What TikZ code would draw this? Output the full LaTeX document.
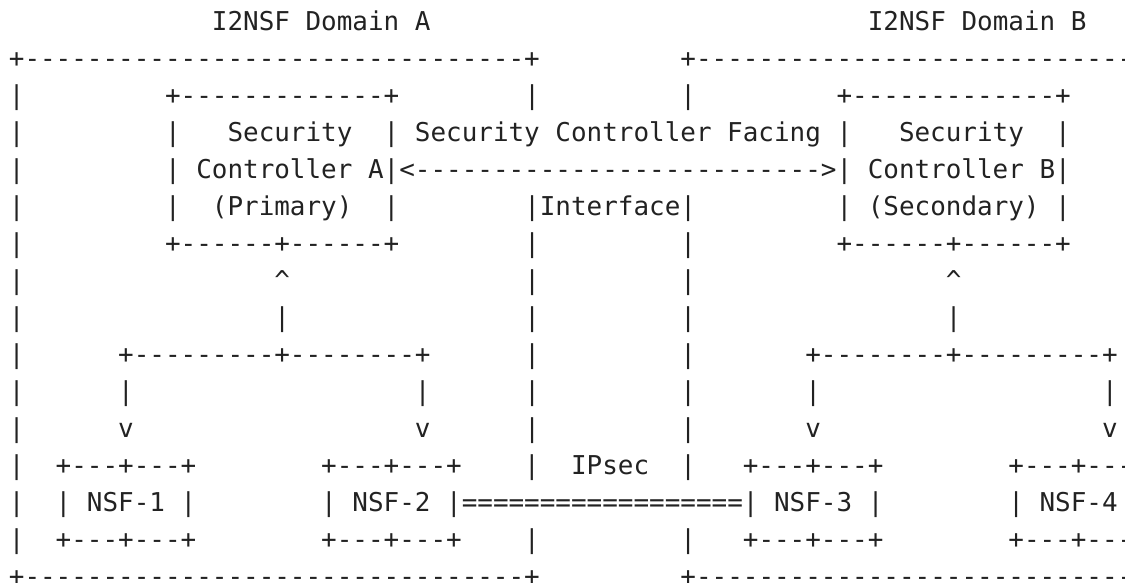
\documentclass[tikz,border=0pt]{standalone}
\usepackage{fontspec}
\setmonofont{DejaVu Sans Mono}
\usetikzlibrary{positioning}

\definecolor{asciiink}{HTML}{222222}

% repeat a character n times
\newcommand{\rpt}[2]{\ifnum#1>0 #2\expandafter\rpt\expandafter{\the\numexpr#1-1\relax}{#2}\fi}

\tikzset{
  asciirow/.style={anchor=base west, inner sep=0pt, outer sep=0pt, text=asciiink,
    font=\ttfamily\fontsize{12.97pt}{18.5pt}\selectfont},
}
\frenchspacing

\begin{document}
\begin{tikzpicture}

        \useasboundingbox (0,0) rectangle (562.5pt,-291.5pt);
        \clip (0,0) rectangle (562.5pt,-291.5pt);

        % Domain titles and outer boxes
        \node[asciirow] (row1) at (4.45pt,-15.05pt) {\rpt{13}{~}I2NSF~Domain~A\rpt{28}{~}I2NSF~Domain~B};
        \node[asciirow, below=18.52pt of row1.base west, anchor=base west] (row2) {+\rpt{32}{-}+\rpt{9}{~}+\rpt{32}{-}+};

        % Security controllers
        \node[asciirow, below=18.52pt of row2.base west, anchor=base west] (row3) {|\rpt{9}{~}+\rpt{13}{-}+\rpt{8}{~}|\rpt{9}{~}|\rpt{9}{~}+\rpt{13}{-}+\rpt{8}{~}|};
        \node[asciirow, below=18.52pt of row3.base west, anchor=base west] (row4) {|\rpt{9}{~}|~~~Security~~|~Security~Controller~Facing~|~~~Security~~|\rpt{8}{~}|};
        \node[asciirow, below=18.52pt of row4.base west, anchor=base west] (row5) {|\rpt{9}{~}|~Controller~A|<\rpt{26}{-}>|~Controller~B|\rpt{8}{~}|};
        \node[asciirow, below=18.52pt of row5.base west, anchor=base west] (row6) {|\rpt{9}{~}|~~(Primary)~~|\rpt{8}{~}|Interface|\rpt{9}{~}|~(Secondary)~|\rpt{8}{~}|};
        \node[asciirow, below=18.52pt of row6.base west, anchor=base west] (row7) {|\rpt{9}{~}+\rpt{6}{-}+\rpt{6}{-}+\rpt{8}{~}|\rpt{9}{~}|\rpt{9}{~}+\rpt{6}{-}+\rpt{6}{-}+\rpt{8}{~}|};

        % Links down to the NSFs
        \node[asciirow, below=18.52pt of row7.base west, anchor=base west] (row8) {|\rpt{16}{~}\textasciicircum\rpt{15}{~}|\rpt{9}{~}|\rpt{16}{~}\textasciicircum\rpt{15}{~}|};
        \node[asciirow, below=18.52pt of row8.base west, anchor=base west] (row9) {|\rpt{16}{~}|\rpt{15}{~}|\rpt{9}{~}|\rpt{16}{~}|\rpt{15}{~}|};
        \node[asciirow, below=18.52pt of row9.base west, anchor=base west] (row10) {|\rpt{6}{~}+\rpt{9}{-}+\rpt{8}{-}+\rpt{6}{~}|\rpt{9}{~}|\rpt{7}{~}+\rpt{8}{-}+\rpt{9}{-}+\rpt{5}{~}|};
        \node[asciirow, below=18.52pt of row10.base west, anchor=base west] (row11) {|\rpt{6}{~}|\rpt{18}{~}|\rpt{6}{~}|\rpt{9}{~}|\rpt{7}{~}|\rpt{18}{~}|\rpt{5}{~}|};
        \node[asciirow, below=18.52pt of row11.base west, anchor=base west] (row12) {|\rpt{6}{~}v\rpt{18}{~}v\rpt{6}{~}|\rpt{9}{~}|\rpt{7}{~}v\rpt{18}{~}v\rpt{5}{~}|};

        % NSFs and the IPsec tunnel
        \node[asciirow, below=18.52pt of row12.base west, anchor=base west] (row13) {|~~+---+---+\rpt{8}{~}+---+---+~~~~|~~IPsec~~|~~~+---+---+\rpt{8}{~}+---+---+~~~|};
        \node[asciirow, below=18.52pt of row13.base west, anchor=base west] (row14) {|~~|~NSF-1~|\rpt{8}{~}|~NSF-2~|\rpt{18}{=}|~NSF-3~|\rpt{8}{~}|~NSF-4~|~~~|};
        \node[asciirow, below=18.52pt of row14.base west, anchor=base west] (row15) {|~~+---+---+\rpt{8}{~}+---+---+~~~~|\rpt{9}{~}|~~~+---+---+\rpt{8}{~}+---+---+~~~|};
        \node[asciirow, below=18.52pt of row15.base west, anchor=base west] (row16) {+\rpt{32}{-}+\rpt{9}{~}+\rpt{32}{-}+};

\end{tikzpicture}
\end{document}
